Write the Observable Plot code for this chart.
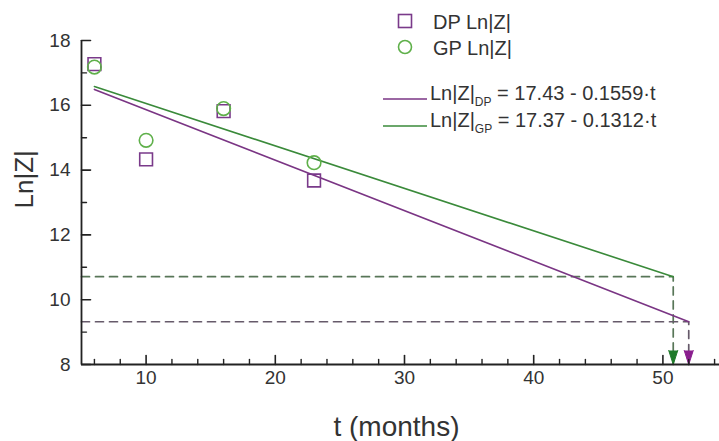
<!DOCTYPE html>
<html><head><meta charset="utf-8">
<script src="https://cdn.jsdelivr.net/npm/d3@7"></script>
<script src="https://cdn.jsdelivr.net/npm/@observablehq/plot@0.6"></script>
<style>
html,body{margin:0;padding:0;background:#fff;overflow:hidden}
#wrap{position:relative;width:719px;height:441px}
#wrap svg{position:absolute;left:0;top:0}
</style></head><body>
<div id="wrap"></div>
<script>
// ---- data ----
const dpT = [6, 10, 16, 23];
const dpLnZ = [17.27, 14.33, 15.82, 13.68];
const gpT = [6, 10, 16, 23];
const gpLnZ = [17.18, 14.92, 15.90, 14.23];
const dpFitT = [6, 52];
const dpFitLnZ = [16.49, 9.32];
const gpFitT = [6, 50.8];
const gpFitLnZ = [16.58, 10.71];
const xMajorTicks = [10, 20, 30, 40, 50];
const xMinorTicks = [6, 8, 12, 14, 16, 18, 22, 24, 26, 28, 32, 34, 36, 38, 42, 44, 46, 48, 52, 54];
const yMajorTicks = [8, 10, 12, 14, 16, 18];
const yMinorTicks = [9, 11, 13, 15, 17];
const xTitle = "t (months)";
const yTitle = "Ln|Z|";
const seriesNames = ["DP Ln|Z|", "GP Ln|Z|"];
const fitMain = ["Ln|Z|", "Ln|Z|"];
const fitSub = ["DP", "GP"];
const fitRest = [" = 17.43 - 0.1559\u00B7t", " = 17.37 - 0.1312\u00B7t"];

const C = {
  dpLine: "#7a3584", gpLine: "#3a8a3a",
  dpPt: "#7a3a8a", gpPt: "#5fb04a",
  dpDash: "#665a6a", gpDash: "#587658",
  dpArrow: "#8a1e8e", gpArrow: "#1f7a2a",
  axis: "#222"
};
const FONT = "'Liberation Sans', Arial, Helvetica, sans-serif";

const dp = dpT.map((t, i) => ({t, v: dpLnZ[i]}));
const gp = gpT.map((t, i) => ({t, v: gpLnZ[i]}));
const dpFit = dpFitT.map((t, i) => ({t, v: dpFitLnZ[i]}));
const gpFit = gpFitT.map((t, i) => ({t, v: gpFitLnZ[i]}));
const xMin = 5, yMin = 8;
const dpEnd = dpFit[dpFit.length - 1], gpEnd = gpFit[gpFit.length - 1];
const dpGuide = [{t: xMin, v: dpEnd.v}, {t: dpEnd.t, v: dpEnd.v}, {t: dpEnd.t, v: yMin}];
const gpGuide = [{t: xMin, v: gpEnd.v}, {t: gpEnd.t, v: gpEnd.v}, {t: gpEnd.t, v: yMin}];

const W = 719, H = 441, ML = 81, MR = 0, MT = 40, MB = 77;

// inward tick drawn as a vector with a plain-line shape
const tickShape = {draw(ctx, l) { ctx.moveTo(0, 0); ctx.lineTo(0, -l); }};

const chart = Plot.plot({
  width: W, height: H,
  marginLeft: ML, marginRight: MR, marginTop: MT, marginBottom: MB,
  x: {domain: [5, 55], range: [81, 727], axis: null},
  y: {domain: [8, 18], range: [364, 40], axis: null},
  style: {fontFamily: FONT, background: "transparent", color: C.axis, overflow: "visible"},
  marks: [
    Plot.line(gpGuide, {x: "t", y: "v", stroke: C.gpDash, strokeWidth: 1.7, strokeDasharray: "8,6"}),
    Plot.line(dpGuide, {x: "t", y: "v", stroke: C.dpDash, strokeWidth: 1.7, strokeDasharray: "8,6"}),
    Plot.vector([gpEnd], {x: "t", y: () => yMin, rotate: 180, length: 14, r: 4.5, shape: "spike", anchor: "end", fill: C.gpArrow, stroke: C.gpArrow, strokeWidth: 1}),
    Plot.vector([dpEnd], {x: "t", y: () => yMin, rotate: 180, length: 14, r: 4.5, shape: "spike", anchor: "end", fill: C.dpArrow, stroke: C.dpArrow, strokeWidth: 1}),
    Plot.line(gpFit, {x: "t", y: "v", stroke: C.gpLine, strokeWidth: 1.6}),
    Plot.line(dpFit, {x: "t", y: "v", stroke: C.dpLine, strokeWidth: 1.6}),
    Plot.dot(dp, {x: "t", y: "v", symbol: "square", r: 7.2, stroke: C.dpPt, strokeWidth: 1.6, fill: "none"}),
    Plot.dot(gp, {x: "t", y: "v", symbol: "circle", r: 6.8, stroke: C.gpPt, strokeWidth: 1.6, fill: "none"}),
    Plot.ruleY([yMin], {stroke: C.axis, strokeWidth: 1.8}),
    Plot.ruleX([xMin], {stroke: C.axis, strokeWidth: 1.8}),
    Plot.vector(xMajorTicks, {x: d => d, y: () => yMin, rotate: 0, length: 9, anchor: "start", shape: tickShape, stroke: C.axis, strokeWidth: 1.6}),
    Plot.vector(xMinorTicks, {x: d => d, y: () => yMin, rotate: 0, length: 5, anchor: "start", shape: tickShape, stroke: C.axis, strokeWidth: 1.4}),
    Plot.vector(yMajorTicks, {x: () => xMin, y: d => d, rotate: 90, length: 9, anchor: "start", shape: tickShape, stroke: C.axis, strokeWidth: 1.6}),
    Plot.vector(yMinorTicks, {x: () => xMin, y: d => d, rotate: 90, length: 5, anchor: "start", shape: tickShape, stroke: C.axis, strokeWidth: 1.4}),
    Plot.text(xMajorTicks, {x: d => d, frameAnchor: "bottom", dy: 19, text: d => String(d), fontSize: 19, fill: "#333"}),
    Plot.text(yMajorTicks, {y: d => d, frameAnchor: "left", dx: -11, textAnchor: "end", text: d => String(d), fontSize: 19, fill: "#333"}),
    Plot.text([xTitle], {frameAnchor: "bottom", dx: -4, dy: 71, text: d => d, fontSize: 28, fill: "#333"}),
    Plot.text([yTitle], {frameAnchor: "left", dx: -57, dy: 6, rotate: -90, text: d => d, fontSize: 26, fill: "#333"})
  ]
});
const wrap = document.getElementById("wrap");
wrap.appendChild(chart);

// ---- legend overlay ----
const NS = "http://www.w3.org/2000/svg";
const lg = document.createElementNS(NS, "svg");
lg.setAttribute("width", W); lg.setAttribute("height", H);
lg.style.pointerEvents = "none";
lg.setAttribute("font-family", FONT);
function el(tag, attrs, parent, text) {
  const e = document.createElementNS(NS, tag);
  for (const k in attrs) e.setAttribute(k, attrs[k]);
  if (text != null) e.textContent = text;
  (parent || lg).appendChild(e);
  return e;
}
el("rect", {x: 398.5, y: 14.5, width: 13, height: 13, fill: "#fff", stroke: C.dpPt, "stroke-width": 1.6});
el("text", {x: 433, y: 29, "font-size": 20, fill: "#333"}, null, seriesNames[0]);
el("circle", {cx: 405, cy: 47, r: 6.5, fill: "#fff", stroke: C.gpPt, "stroke-width": 1.6});
el("text", {x: 433, y: 55, "font-size": 20, fill: "#333"}, null, seriesNames[1]);
const fitCols = [C.dpLine, C.gpLine];
const fitY = [99, 126];
for (let i = 0; i < 2; i++) {
  el("line", {x1: 383, x2: 427, y1: fitY[i], y2: fitY[i], stroke: fitCols[i], "stroke-width": 1.6});
  const t = el("text", {x: 430, y: fitY[i] + 1, "font-size": 20, fill: "#333"});
  el("tspan", {}, t, fitMain[i]);
  el("tspan", {"font-size": 12, dy: 6}, t, fitSub[i]);
  el("tspan", {dy: -6}, t, fitRest[i]);
}
wrap.appendChild(lg);
</script>
</body></html>
